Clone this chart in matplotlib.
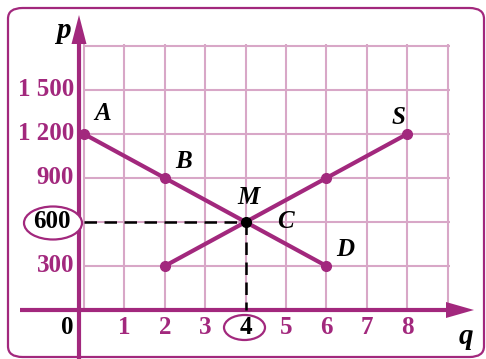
import matplotlib
matplotlib.use("Agg")
import matplotlib.pyplot as plt
from matplotlib.patches import Ellipse, FancyBboxPatch

# ---- data ----
demand_q = [0, 2, 4, 6]
demand_p = [1200, 900, 600, 300]
supply_q = [2, 4, 6, 8]
supply_p = [300, 600, 900, 1200]
eq_q, eq_p = 4, 600
x_ticks = [1, 2, 3, 4, 5, 6, 7, 8]
y_ticks = [300, 600, 900, 1200, 1500]
y_tick_labels = ["300", "600", "900", "1 200", "1 500"]
point_names = ["A", "B", "M", "C", "D", "S"]

PURPLE = "#A2287D"
GRID = "#D8A7C7"
SERIF = ["Liberation Serif", "DejaVu Serif"]

W, H = 486, 359
fig = plt.figure(figsize=(W / 100, H / 100), dpi=100)
ax = fig.add_axes([0, 0, 1, 1])
ax.axis("off")

# pixel mapping: q=0 at x=84, 40.4 px per unit; p=0 at y=310, 44 px per 300
x0, sx = 84, 40.4
y0, sy = 310, 44 / 300
ax.set_xlim(-x0 / sx, (W - x0) / sx)
ax.set_ylim(-(H - y0) / sy, y0 / sy)

def px(x, y):
    return (x - x0) / sx, (y0 - y) / sy

# border (figure coords)
border = FancyBboxPatch((8 / W, 1 - 357 / H), (484 - 8) / W, (357 - 8) / H,
                        boxstyle="round,pad=0,rounding_size=0.03",
                        transform=fig.transFigure, fill=False,
                        edgecolor=PURPLE, linewidth=1.6, zorder=0)
fig.patches.append(border)

# grid
for q in range(0, 10):
    ax.plot([q, q], [0, 1815], color=GRID, lw=1.5, zorder=1, solid_capstyle="butt")
for p in range(300, 2100, 300):
    ax.plot([0, 9.07], [p, p], color=GRID, lw=1.5, zorder=1, solid_capstyle="butt")

# axes
ax_x = px(79, 0)[0]
ax.plot([ax_x, ax_x], [px(0, 359)[1], px(0, 40)[1]], color=PURPLE, lw=3, zorder=3,
        solid_capstyle="butt")
ax.fill([ax_x, ax_x - 7.5 / sx, ax_x + 7.5 / sx], [px(0, 15)[1], px(0, 44)[1], px(0, 44)[1]],
        color=PURPLE, zorder=3, lw=0)
ax.plot([px(20, 0)[0], px(450, 0)[0]], [0, 0], color=PURPLE, lw=3, zorder=3,
        solid_capstyle="butt")
ax.fill([px(474, 0)[0], px(446, 0)[0], px(446, 0)[0]], [0, 8 / sy, -8 / sy],
        color=PURPLE, zorder=3, lw=0)

# dashed guide lines
ax.plot([0, eq_q], [eq_p, eq_p], color="black", lw=1.8, ls=(0, (5, 3)), zorder=4)
ax.plot([eq_q, eq_q], [eq_p, 0], color="black", lw=1.8, ls=(0, (5, 3)), zorder=4)

# curves
ax.plot(demand_q, demand_p, color=PURPLE, lw=3, zorder=5, solid_capstyle="round")
ax.plot(supply_q, supply_p, color=PURPLE, lw=3, zorder=5, solid_capstyle="round")
mq = [demand_q[0], demand_q[1], demand_q[3], supply_q[0], supply_q[2], supply_q[3]]
mp = [demand_p[0], demand_p[1], demand_p[3], supply_p[0], supply_p[2], supply_p[3]]
ax.plot(mq, mp, "o", color=PURPLE, ms=7, zorder=6)
ax.plot([eq_q], [eq_p], "o", color="black", ms=7, zorder=7)

# tick labels
tick_font = dict(family=SERIF, fontweight="bold", fontsize=18)
for q in x_ticks:
    ax.text(q, px(0, 327)[1], str(q), ha="center", va="center",
            color="black" if q == eq_q else PURPLE, zorder=9, **tick_font)
ax.text(px(67, 0)[0], px(0, 327)[1], "0", ha="center", va="center", color="black",
        zorder=9, **tick_font)
for p, lab in zip(y_ticks, y_tick_labels):
    if p == eq_p:
        ax.text(px(52, 0)[0], p, lab, ha="center", va="center", color="black",
                zorder=9, **tick_font)
    else:
        ax.text(px(74, 0)[0], p, lab, ha="right", va="center", color=PURPLE,
                zorder=9, **tick_font)

# ellipses
e1c = px(53, 223)
ax.add_patch(Ellipse(e1c, 58 / sx, 33 / sy, facecolor="white", edgecolor=PURPLE,
                     lw=1.6, zorder=8))
e2c = px(244.5, 327.5)
ax.add_patch(Ellipse(e2c, 41 / sx, 25 / sy, facecolor="white", edgecolor=PURPLE,
                     lw=1.6, zorder=8))

# point labels
lab_font = dict(family=SERIF, fontweight="bold", fontstyle="italic", fontsize=18,
                color="black", ha="center", va="center", zorder=9)
label_px = [(103, 113), (184, 162), (248, 198), (285, 222), (345, 250), (398, 118)]
for name, (lx, ly) in zip(point_names, label_px):
    ax.text(*px(lx, ly), name, **lab_font)
ax.text(*px(63, 30), "p", **{**lab_font, "fontsize": 21})
ax.text(*px(466, 336), "q", **{**lab_font, "fontsize": 21})

fig.savefig("out.png", dpi=100)
